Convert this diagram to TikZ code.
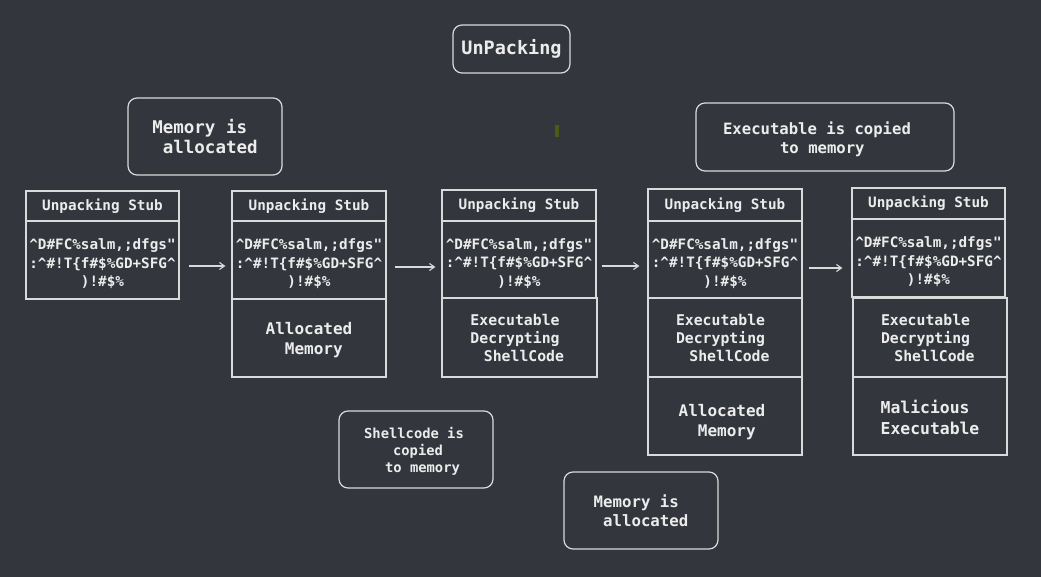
\documentclass[tikz,border=0pt]{standalone}
\usepackage{fontspec}
\setmonofont{DejaVu Sans Mono}
\usetikzlibrary{arrows.meta}
\definecolor{bgc}{HTML}{33363C}
\definecolor{linec}{HTML}{DADADA}
\definecolor{txtc}{HTML}{ECECEC}
\definecolor{olivec}{HTML}{4B5A14}
\newcommand{\dn}[1]{\rule{0pt}{#1}}
\newcommand{\gap}[1]{\hbox to #1{}}
\newcommand{\garbtext}{\dn{19pt}\textasciicircum D\#FC\%salm,;dfgs"\\:\textasciicircum\#!T\{f\#\$\%GD+SFG\textasciicircum\\)!\#\$\%}
\newcommand{\lsp}{\hphantom{x}}
\begin{document}
\begin{tikzpicture}[x=1pt,y=-1pt,
  box/.style={draw=linec, line width=1.2pt, inner sep=0pt, text=txtc, align=center, font=\ttfamily\bfseries},
  rbox/.style={box, rounded corners=9pt},
  hdr/.style={box, font=\ttfamily\bfseries\fontsize{14.3}{17}\selectfont},
  garb/.style={box, font=\ttfamily\bfseries\fontsize{14.3}{18.5}\selectfont},
  lbl/.style={box, font=\ttfamily\bfseries\fontsize{16}{20}\selectfont},
  exe/.style={box, font=\ttfamily\bfseries\fontsize{14.8}{18}\selectfont},
  arr/.style={draw=linec, line width=1.1pt, -{Straight Barb[length=5pt,width=7pt]}}
]
\fill[bgc] (0,0) rectangle (1041,577);
\useasboundingbox (0,0) rectangle (1041,577);

% title and notes
\node[rbox, minimum width=117pt, minimum height=48pt, font=\ttfamily\bfseries\fontsize{18.5}{22}\selectfont] (title) at (511.5,49) {UnPacking};
\node[rbox, minimum width=154pt, minimum height=77pt, font=\ttfamily\bfseries\fontsize{17.5}{20}\selectfont] (note1) at (205,136.5) {Memory is\lsp\\\lsp allocated};
\node[rbox, minimum width=258pt, minimum height=68pt, align=left, font=\ttfamily\bfseries\fontsize{15.6}{19}\selectfont] (note2) at (825,137) {\dn{17pt}Executable is copied\gap{16pt}\\\gap{57pt}to memory};
\node[rbox, minimum width=154pt, minimum height=77pt, font=\ttfamily\bfseries\fontsize{13.8}{17}\selectfont] (note3) at (416,449.5) {\dn{14.5pt}Shellcode is\gap{4pt}\\\gap{4pt}copied\\\gap{13pt}to memory};
\node[rbox, minimum width=154pt, minimum height=77pt, font=\ttfamily\bfseries\fontsize{15.7}{19}\selectfont] (note4) at (641,510.5) {Memory is\lsp\\\lsp allocated};

% stray mark
\fill[olivec] (555,125) rectangle (559,137);

% column 1
\node[hdr, minimum width=153pt, minimum height=30pt] (h1) at (102.5,206) {Unpacking Stub};
\node[garb, minimum width=153pt, minimum height=78pt] (b1) at (102.5,260) {\garbtext};

% column 2
\node[hdr, minimum width=154pt, minimum height=30pt] (h2) at (309,206) {Unpacking Stub};
\node[garb, minimum width=154pt, minimum height=78pt] (b2) at (309,260) {\garbtext};
\node[lbl, minimum width=154pt, minimum height=78pt] (m2) at (309,338) {\dn{16pt}Allocated\\\lsp Memory};

% column 3
\node[hdr, minimum width=154pt, minimum height=31pt] (h3) at (519,205.5) {Unpacking Stub};
\node[garb, minimum width=154pt, minimum height=77pt] (b3) at (519,259.5) {\garbtext};
\node[exe, minimum width=155pt, minimum height=79pt] (e3) at (519.5,337.5) {Executable\lsp\\Decrypting\lsp\\\lsp ShellCode};

% column 4
\node[hdr, minimum width=154pt, minimum height=32pt] (h4) at (725,205) {Unpacking Stub};
\node[garb, minimum width=154pt, minimum height=77pt] (b4) at (725,259.5) {\garbtext};
\node[exe, minimum width=154pt, minimum height=79pt] (e4) at (725,337.5) {Executable\lsp\\Decrypting\lsp\\\lsp ShellCode};
\node[lbl, minimum width=154pt, minimum height=78pt] (m4) at (725,416) {\dn{24pt}Allocated\gap{6pt}\\\lsp Memory\gap{6pt}};

% column 5
\node[hdr, minimum width=153pt, minimum height=31pt] (h5) at (928.5,203.5) {Unpacking Stub};
\node[garb, minimum width=153pt, minimum height=78pt] (b5) at (928.5,258) {\garbtext};
\node[exe, minimum width=154pt, minimum height=79pt] (e5) at (930,337.5) {Executable\lsp\\Decrypting\lsp\\\lsp ShellCode};
\node[lbl, minimum width=154pt, minimum height=78pt, align=left, font=\ttfamily\bfseries\fontsize{16.4}{21}\selectfont] (m5) at (930,416) {\dn{16.5pt}Malicious\\Executable};

% arrows
\draw[arr, shorten <=9pt, shorten >=6pt] ([yshift=-6pt]b1.east) -- ([yshift=-6pt]b2.west);
\draw[arr, shorten <=8pt, shorten >=6pt] ([yshift=-7pt]b2.east) -- ([yshift=-7.5pt]b3.west);
\draw[arr, shorten <=5pt, shorten >=8pt] ([yshift=-6.5pt]b3.east) -- ([yshift=-6.5pt]b4.west);
\draw[arr, shorten <=6pt, shorten >=9pt] ([yshift=-8.5pt]b4.east) -- ([yshift=-10pt]b5.west);
\end{tikzpicture}
\end{document}
